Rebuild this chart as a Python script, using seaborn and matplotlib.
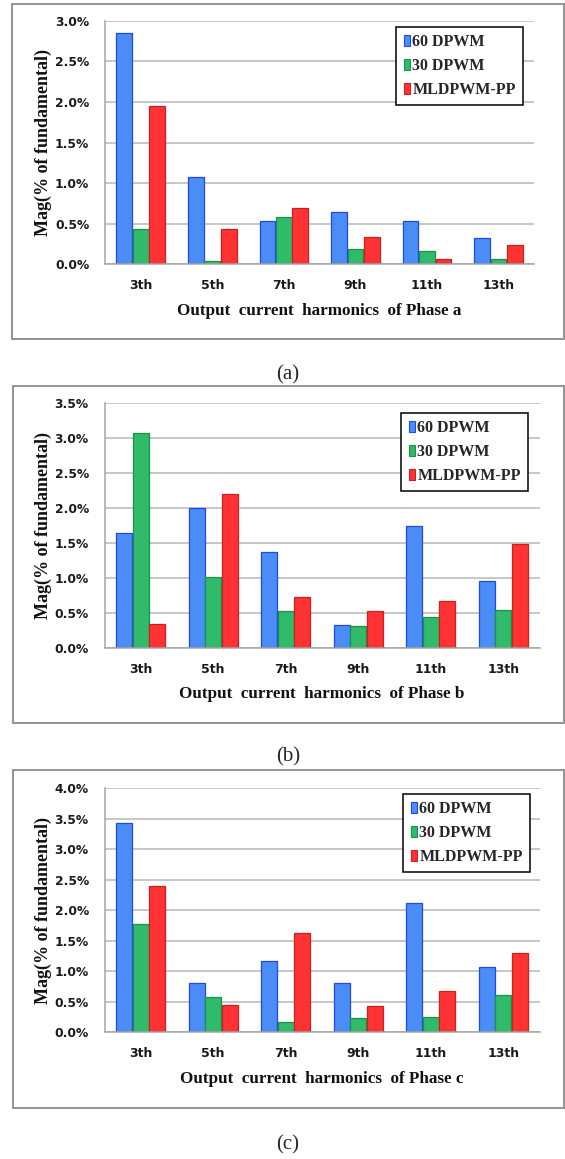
import matplotlib
matplotlib.use("Agg")
import matplotlib.pyplot as plt
from matplotlib.patches import Rectangle, Patch
from matplotlib.ticker import MultipleLocator, FixedLocator, StrMethodFormatter
import seaborn as sns
import pandas as pd

# ---- data -------------------------------------------------------------
harmonics = ["3th", "5th", "7th", "9th", "11th", "13th"]
methods = ["60 DPWM", "30 DPWM", "MLDPWM-PP"]

phase_a_60 = [2.85, 1.07, 0.53, 0.65, 0.53, 0.32]
phase_a_30 = [0.44, 0.04, 0.58, 0.19, 0.16, 0.06]
phase_a_ml = [1.95, 0.43, 0.69, 0.34, 0.07, 0.24]

phase_b_60 = [1.65, 2.00, 1.37, 0.33, 1.75, 0.96]
phase_b_30 = [3.07, 1.02, 0.53, 0.32, 0.45, 0.55]
phase_b_ml = [0.35, 2.20, 0.73, 0.53, 0.67, 1.49]

phase_c_60 = [3.43, 0.80, 1.17, 0.81, 2.11, 1.06]
phase_c_30 = [1.77, 0.57, 0.16, 0.23, 0.25, 0.60]
phase_c_ml = [2.39, 0.44, 1.62, 0.42, 0.68, 1.29]

y_limits = [3.0, 3.5, 4.0]
x_titles = ["Output  current  harmonics  of Phase a",
            "Output  current  harmonics  of Phase b",
            "Output  current  harmonics  of Phase c"]
captions = ["(a)", "(b)", "(c)"]
y_title = "Mag(% of fundamental)"

# ---- style ------------------------------------------------------------
fills = ["#4a8df6", "#30bb6b", "#ff3333"]
edges = ["#2346e6", "#1c9048", "#cc1f1f"]
grid_col = "#b8b8b8"
axis_col = "#a4a4a4"
serif = ["Liberation Serif", "DejaVu Serif"]

sns.set_style("white")
plt.rcParams["font.family"] = ["DejaVu Sans"]
plt.rcParams["font.weight"] = "bold"

W, H = 565, 1159
fig = plt.figure(figsize=(W / 100, H / 100), dpi=100)


def fx(px):
    return px / W


def fy(py):
    return 1 - py / H


# pixel layout of each panel: axes (left, top, right, bottom), frame box,
# legend upper-right corner, caption centre, x-title centre
layout = [
    dict(axes=(105, 20.7, 534.3, 264.3), box=(12, 4, 564, 339),
         legend=(523, 27), caption=(288, 375), xlab=311),
    dict(axes=(104.5, 403.3, 539.5, 648.3), box=(12.5, 386, 564, 722.5),
         legend=(528, 413), caption=(288, 757), xlab=694),
    dict(axes=(104.5, 788.3, 539.5, 1032), box=(12.5, 770, 564, 1108),
         legend=(530, 794), caption=(288, 1145), xlab=1079),
]

series = [
    (phase_a_60, phase_a_30, phase_a_ml),
    (phase_b_60, phase_b_30, phase_b_ml),
    (phase_c_60, phase_c_30, phase_c_ml),
]

for vals, ymax, xt, cap, lay in zip(series, y_limits, x_titles, captions, layout):
    l, t, r, b = lay["axes"]
    ax = fig.add_axes([fx(l), fy(b), (r - l) / W, (b - t) / H])

    df = pd.DataFrame({
        "harmonic": harmonics * len(methods),
        "mag": [v for s in vals for v in s],
        "method": [m for m in methods for _ in harmonics],
    })
    sns.barplot(data=df, x="harmonic", y="mag", hue="method",
                hue_order=methods, order=harmonics, palette=fills,
                saturation=1, width=0.69, gap=0.04, errorbar=None,
                legend=False, ax=ax)
    for cont, ec in zip(ax.containers, edges):
        for bar in cont:
            bar.set_edgecolor(ec)
            bar.set_linewidth(0.9)

    ax.set_xlim(-0.5, len(harmonics) - 0.5)
    ax.set_ylim(0, ymax)
    ax.yaxis.set_major_locator(MultipleLocator(0.5))
    ax.yaxis.set_major_formatter(StrMethodFormatter("{x:.1f}%"))
    ax.grid(axis="y", color=grid_col, lw=1.1)
    ax.grid(axis="x", visible=False)
    ax.set_axisbelow(True)
    for side in ("top", "right"):
        ax.spines[side].set_visible(False)
    for side in ("left", "bottom"):
        ax.spines[side].set_color(axis_col)
        ax.spines[side].set_linewidth(1.1)

    ax.tick_params(axis="y", length=4.3, width=1.1, color=axis_col,
                   pad=7, labelsize=8.8, labelcolor="#1a1a1a")
    ax.tick_params(axis="x", which="major", length=0, pad=10.5,
                   labelsize=9, labelcolor="#1a1a1a")
    ax.xaxis.set_minor_locator(
        FixedLocator([i - 0.5 for i in range(len(harmonics) + 1)]))
    ax.tick_params(axis="x", which="minor", length=4, width=1.1,
                   color=axis_col)

    ax.set_xlabel(xt, family=serif, weight="bold", fontsize=12.3,
                  color="#111111")
    ax.xaxis.set_label_coords(0.5, -(lay["xlab"] - b) / (b - t))
    ax.xaxis.label.set_verticalalignment("center")
    ax.set_ylabel(y_title, family=serif, weight="bold", fontsize=13,
                  color="#111111")
    ax.yaxis.set_label_coords((43 - l) / (r - l), 0.5)
    ax.yaxis.label.set_verticalalignment("center")

    handles = [Patch(facecolor=f, edgecolor=e, lw=0.8)
               for f, e in zip(fills, edges)]
    lx, ly = lay["legend"]
    leg = ax.legend(handles, methods, loc="upper right",
                    bbox_to_anchor=(fx(lx), fy(ly)),
                    bbox_transform=fig.transFigure, borderaxespad=0,
                    prop=dict(family=serif, weight="bold", size=11.5),
                    frameon=True, fancybox=False, framealpha=1,
                    edgecolor="black", handlelength=0.4, handleheight=0.6,
                    handletextpad=0.15, labelspacing=0.5, borderpad=0.45)
    leg.get_frame().set_linewidth(1.1)

    bx0, by0, bx1, by1 = lay["box"]
    fig.add_artist(Rectangle((fx(bx0), fy(by1)), (bx1 - bx0) / W,
                             (by1 - by0) / H, transform=fig.transFigure,
                             fill=False, edgecolor="#8a8a8a", lw=1.3))
    cx, cy = lay["caption"]
    fig.text(fx(cx), fy(cy), cap, ha="center", va="center",
             family=serif, weight="normal", fontsize=15)

fig.savefig("out.png", dpi=100, facecolor="white")
